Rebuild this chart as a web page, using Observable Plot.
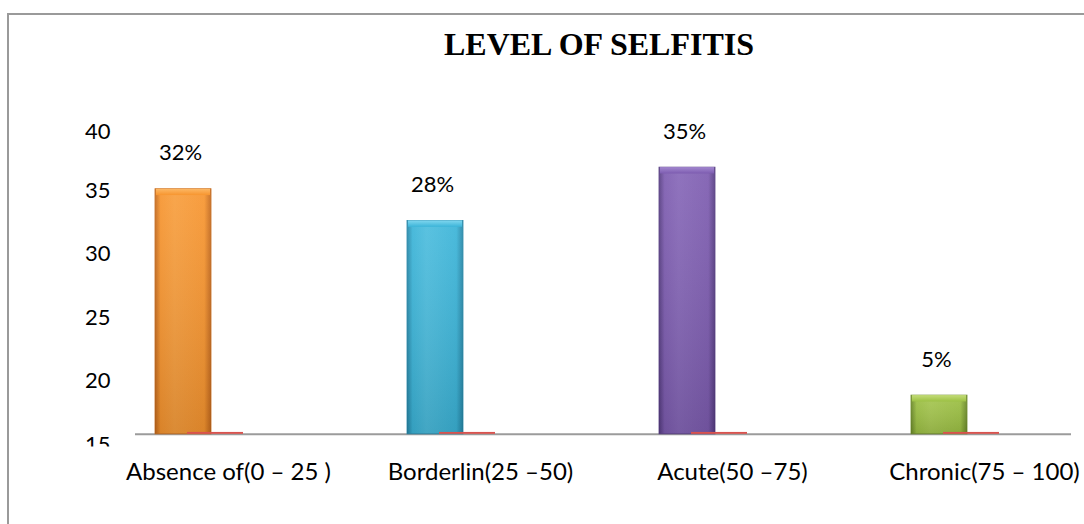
<!DOCTYPE html>
<html>
<head>
<meta charset="utf-8">
<script src="https://cdn.jsdelivr.net/npm/d3@7"></script>
<script src="https://cdn.jsdelivr.net/npm/@observablehq/plot@0.6"></script>
<style>
  html, body { margin: 0; padding: 0; background: #fff; }
  #wrap { position: relative; width: 1084px; height: 524px; overflow: hidden; background: #fff; }
  #border { position: absolute; left: 7px; top: 13px; width: 1200px; height: 600px;
            border-top: 2px solid #9a9a9a; border-left: 2px solid #9a9a9a; }
  #chart { position: absolute; left: 0; top: 0; }
  #title { position: absolute; left: 599px; top: 28px; transform: translateX(-50%);
           font: bold 32px "Liberation Serif", "Times New Roman", serif; line-height: 32px;
           white-space: nowrap; color: #000; }
</style>
</head>
<body>
<div id="wrap">
  <div id="border"></div>
  <svg id="gradients" width="0" height="0" style="position:absolute"><defs></defs></svg>
  <div id="chart"></div>
  <div id="title">LEVEL OF SELFITIS</div>
</div>
<script>
// ---- data ----
const categories = ["Absence of(0 – 25 )", "Borderlin(25 –50)", "Acute(50 –75)", "Chronic(75 – 100)"];
const values = [35.1, 32.6, 36.8, 18.85];
const percentLabels = ["32%", "28%", "35%", "5%"];
const secondSeries = [15.95, 15.95, 15.95, 15.95];
const yTicks = [15, 20, 25, 30, 35, 40];
const axisBase = 15.8;
const barColorNames = ["orange", "blue", "purple", "green"];

// ---- styles ----
const palette = {
  orange: {light: "#fcb866", base: "#f7952f", dark: "#c4691c"},
  blue:   {light: "#7fd6ef", base: "#3bb4d8", dark: "#2687a8"},
  purple: {light: "#a287cf", base: "#7d5cb0", dark: "#563c82"},
  green:  {light: "#c3dc78", base: "#9cc043", dark: "#6b8a28"}
};

const defs = d3.select("#gradients defs");
for (const name of barColorNames) {
  const p = palette[name];
  const h = defs.append("linearGradient").attr("id", "h-" + name)
    .attr("x1", 0).attr("y1", 0).attr("x2", 1).attr("y2", 0);
  [[0, p.dark], [0.1, p.base], [0.35, d3.interpolateRgb(p.base, p.light)(0.25)], [0.88, p.base], [1, p.dark]]
    .forEach(([o, c]) => h.append("stop").attr("offset", o).attr("stop-color", c));
  const t = defs.append("linearGradient").attr("id", "t-" + name)
    .attr("x1", 0).attr("y1", 0).attr("x2", 0).attr("y2", 1);
  [[0, p.light], [1, p.base]].forEach(([o, c]) => t.append("stop").attr("offset", o).attr("stop-color", c));
}
const v = defs.append("linearGradient").attr("id", "v-shade")
  .attr("x1", 0).attr("y1", 0).attr("x2", 0).attr("y2", 1);
v.append("stop").attr("offset", 0).attr("stop-color", "#fff").attr("stop-opacity", 0.08);
v.append("stop").attr("offset", 1).attr("stop-color", "#000").attr("stop-opacity", 0.12);

const data = categories.map((c, i) => ({
  category: c, value: values[i], label: percentLabels[i], second: secondSeries[i], color: barColorNames[i]
}));

const chart = Plot.plot({
  width: 1084,
  height: 524,
  marginLeft: 135,
  marginRight: 13,
  marginTop: 100,
  marginBottom: 78,
  style: {fontFamily: "Lato, 'Noto Sans', sans-serif", fontSize: "22px", color: "#000", background: "transparent"},
  x: {domain: categories, range: [155, 968], paddingInner: 0.778, paddingOuter: 0, align: 0},
  y: {domain: [15, 40], range: [444, 126.5]},
  color: {type: "identity"},
  marks: [
    Plot.ruleY([axisBase], {stroke: "#9b9b9b", strokeWidth: 2}),
    Plot.barY(data, {x: "category", y1: axisBase, y2: "value", fill: d => `url(#h-${d.color})`,
                     stroke: d => palette[d.color].dark, strokeWidth: 0.8}),
    Plot.barY(data, {x: "category", y1: axisBase, y2: "value", fill: "url(#v-shade)"}),
    Plot.barY(data, {x: "category", y1: d => d.value - 0.5, y2: "value", fill: d => `url(#t-${d.color})`,
                     insetLeft: 1, insetRight: 1}),
    Plot.barY(data, {x: "category", y1: axisBase, y2: "second", fill: "#d9534f", dx: 32}),
    Plot.axisY(yTicks.filter(t => t < 40), {tickSize: 0, tickPadding: 25, label: null}),
    Plot.axisY(yTicks.filter(t => t >= 40), {tickSize: 0, tickPadding: 25, dy: 5, label: null}),
    Plot.axisX({tickSize: 0, tickPadding: 16, dx: 45, fontSize: 24, label: null}),
    Plot.text(data, {x: "category", y: "value", text: "label", dy: -36, dx: -3, fill: "#000"})
  ]
});

document.getElementById("chart").appendChild(chart);

// clip the lowest y tick label at the plot edge, as in the original
const yScale = chart.scale("y");
const clipY = yScale.apply(15) + 2;
const svgSel = d3.select(chart);
const cdefs = svgSel.insert("defs", ":first-child");
cdefs.append("clipPath").attr("id", "yclip").append("rect")
  .attr("x", -50).attr("y", -50).attr("width", 1200).attr("height", clipY + 50);
const yLabelGroup = chart.querySelector('g[aria-label="y-axis tick label"]');
if (yLabelGroup) yLabelGroup.setAttribute("clip-path", "url(#yclip)");
</script>
</body>
</html>
